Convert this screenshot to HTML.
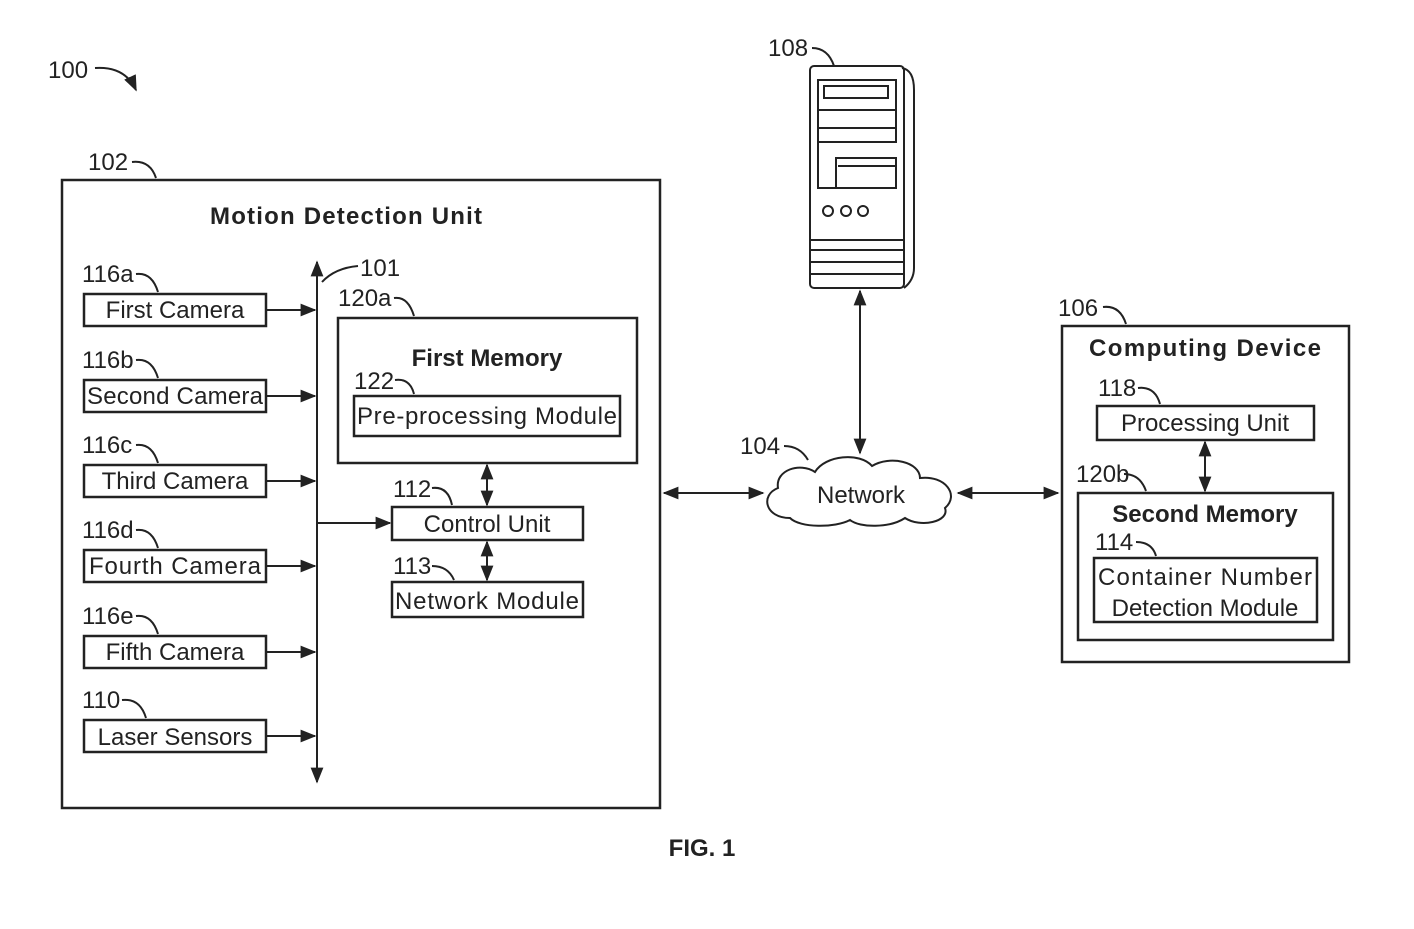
<!DOCTYPE html>
<html><head><style>
body{margin:0;background:#fff;}
svg{display:block;}
text{font-family:"Liberation Sans",sans-serif;fill:#222;}
.n{font-size:24px;}
.l{font-size:24px;}
.b{font-size:24px;font-weight:bold;}
</style></head><body>
<svg width="1414" height="929" viewBox="0 0 1414 929" xmlns="http://www.w3.org/2000/svg">
<defs>
<marker id="a" viewBox="0 0 10 10" refX="9" refY="5" markerWidth="8" markerHeight="8" orient="auto-start-reverse"><path d="M0,1 L10,5 L0,9 z" fill="#222"/></marker>
</defs>
<g stroke="#222" stroke-width="2.5" fill="none">
<rect x="62" y="180" width="598" height="628"/>
<rect x="84" y="294" width="182" height="32"/>
<rect x="84" y="380" width="182" height="32"/>
<rect x="84" y="465" width="182" height="32"/>
<rect x="84" y="550" width="182" height="32"/>
<rect x="84" y="636" width="182" height="32"/>
<rect x="84" y="720" width="182" height="32"/>
<rect x="338" y="318" width="299" height="145"/>
<rect x="354" y="396" width="266" height="40"/>
<rect x="392" y="507" width="191" height="33"/>
<rect x="392" y="582" width="191" height="35"/>
<rect x="1062" y="326" width="287" height="336"/>
<rect x="1097" y="406" width="217" height="34"/>
<rect x="1078" y="493" width="255" height="147"/>
<rect x="1094" y="558" width="223" height="64"/>
</g>
<g stroke="#222" stroke-width="2" fill="none">
<line x1="317" y1="262" x2="317" y2="782" marker-start="url(#a)" marker-end="url(#a)"/>
<line x1="266" y1="310" x2="315" y2="310" marker-end="url(#a)"/>
<line x1="266" y1="396" x2="315" y2="396" marker-end="url(#a)"/>
<line x1="266" y1="481" x2="315" y2="481" marker-end="url(#a)"/>
<line x1="266" y1="566" x2="315" y2="566" marker-end="url(#a)"/>
<line x1="266" y1="652" x2="315" y2="652" marker-end="url(#a)"/>
<line x1="266" y1="736" x2="315" y2="736" marker-end="url(#a)"/>
<line x1="317" y1="523" x2="390" y2="523" marker-end="url(#a)"/>
<line x1="487" y1="465" x2="487" y2="505" marker-start="url(#a)" marker-end="url(#a)"/>
<line x1="487" y1="542" x2="487" y2="580" marker-start="url(#a)" marker-end="url(#a)"/>
<line x1="664" y1="493" x2="763" y2="493" marker-start="url(#a)" marker-end="url(#a)"/>
<line x1="958" y1="493" x2="1058" y2="493" marker-start="url(#a)" marker-end="url(#a)"/>
<line x1="860" y1="291" x2="860" y2="453" marker-start="url(#a)" marker-end="url(#a)"/>
<line x1="1205" y1="442" x2="1205" y2="491" marker-start="url(#a)" marker-end="url(#a)"/>
<!-- leader curves -->
<path d="M95,68 Q125,66 136,90" marker-end="url(#a)"/>
<path d="M132,162 Q150,160 156,178"/>
<path d="M812,48 Q828,48 834,66"/>
<path d="M1103,307 Q1120,305 1126,324"/>
<path d="M784,446 Q800,446 808,460"/>
<path d="M358,266 Q335,268 322,282"/>
<path d="M394,298 Q408,296 414,316"/>
<path d="M395,380 Q410,378 414,394"/>
<path d="M432,488 Q448,486 452,505"/>
<path d="M432,566 Q448,566 454,580"/>
<path d="M1138,388 Q1155,386 1160,404"/>
<path d="M1124,474 Q1140,474 1146,491"/>
<path d="M1136,542 Q1152,542 1156,556"/>
<path d="M136,274 Q152,272 158,292"/>
<path d="M136,360 Q152,358 158,378"/>
<path d="M136,445 Q152,443 158,463"/>
<path d="M136,530 Q152,528 158,548"/>
<path d="M136,616 Q152,614 158,634"/>
<path d="M122,700 Q140,698 146,718"/>
<!-- cloud -->
<path d="M790,518 C765,518 760,495 778,488 C775,470 800,462 815,472 C825,455 860,452 872,466 C890,455 920,462 920,478 C945,475 960,495 945,508 C950,522 920,528 905,518 C890,528 860,528 850,520 C835,528 800,528 790,518 z" fill="#fff"/>
<!-- server -->
<path d="M902,68 Q914,70 914,90 L914,268 Q914,280 904,288"/>
<rect x="810" y="66" width="94" height="222" rx="4"/>
<rect x="818" y="80" width="78" height="62"/>
<rect x="824" y="86" width="64" height="12"/>
<line x1="818" y1="110" x2="896" y2="110"/>
<line x1="818" y1="128" x2="896" y2="128"/>
<path d="M818,128 L818,188 L896,188 L896,158 L836,158 L836,188"/>
<line x1="838" y1="166" x2="896" y2="166"/>
<circle cx="828" cy="211" r="5"/><circle cx="846" cy="211" r="5"/><circle cx="863" cy="211" r="5"/>
<line x1="810" y1="240" x2="904" y2="240"/>
<line x1="810" y1="250" x2="904" y2="250"/>
<line x1="810" y1="262" x2="904" y2="262"/>
<line x1="810" y1="274" x2="904" y2="274"/>
</g>
<g>
<text class="n" x="48" y="78">100</text>
<text class="n" x="88" y="170">102</text>
<text class="n" x="768" y="56">108</text>
<text class="n" x="1058" y="316">106</text>
<text class="n" x="740" y="454">104</text>
<text class="n" x="360" y="276">101</text>
<text class="n" x="338" y="306">120a</text>
<text class="n" x="354" y="389">122</text>
<text class="n" x="393" y="497">112</text>
<text class="n" x="393" y="574">113</text>
<text class="n" x="1098" y="396">118</text>
<text class="n" x="1076" y="482">120b</text>
<text class="n" x="1095" y="550">114</text>
<text class="n" x="82" y="282">116a</text>
<text class="n" x="82" y="368">116b</text>
<text class="n" x="82" y="453">116c</text>
<text class="n" x="82" y="538">116d</text>
<text class="n" x="82" y="624">116e</text>
<text class="n" x="82" y="708">110</text>
<text class="b" x="346" y="224" text-anchor="middle" textLength="272">Motion Detection Unit</text>
<text class="l" x="175" y="318" text-anchor="middle">First Camera</text>
<text class="l" x="175" y="404" text-anchor="middle" textLength="176">Second Camera</text>
<text class="l" x="175" y="489" text-anchor="middle">Third Camera</text>
<text class="l" x="175" y="574" text-anchor="middle" textLength="172">Fourth Camera</text>
<text class="l" x="175" y="660" text-anchor="middle">Fifth Camera</text>
<text class="l" x="175" y="745" text-anchor="middle">Laser Sensors</text>
<text class="b" x="487" y="366" text-anchor="middle">First Memory</text>
<text class="l" x="487" y="424" text-anchor="middle" textLength="260">Pre-processing Module</text>
<text class="l" x="487" y="532" text-anchor="middle">Control Unit</text>
<text class="l" x="487" y="609" text-anchor="middle" textLength="184">Network Module</text>
<text class="l" x="861" y="503" text-anchor="middle">Network</text>
<text class="b" x="1205" y="356" text-anchor="middle" textLength="232">Computing Device</text>
<text class="l" x="1205" y="431" text-anchor="middle">Processing Unit</text>
<text class="b" x="1205" y="522" text-anchor="middle">Second Memory</text>
<text class="l" x="1205" y="585" text-anchor="middle" textLength="214">Container Number</text>
<text class="l" x="1205" y="616" text-anchor="middle">Detection Module</text>
<text class="b" x="702" y="856" text-anchor="middle">FIG. 1</text>
</g>
</svg>
</body></html>
